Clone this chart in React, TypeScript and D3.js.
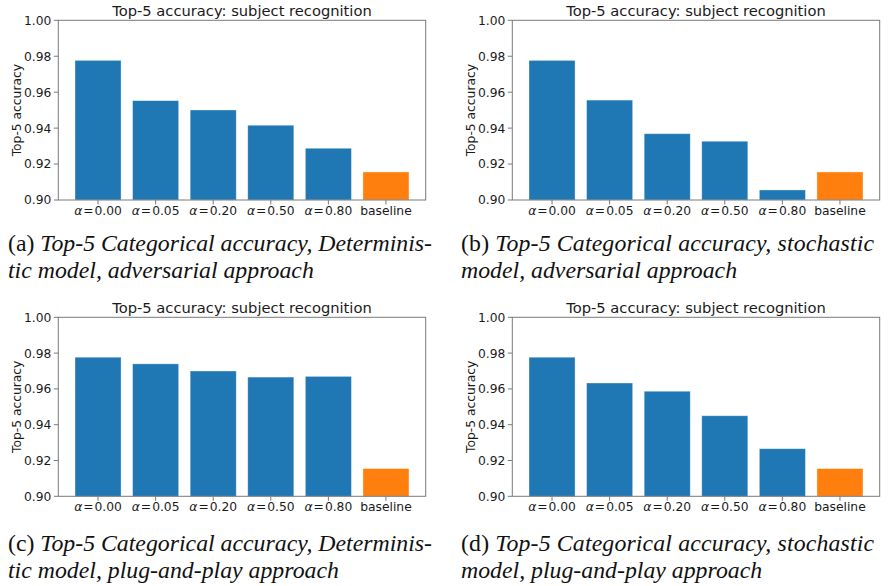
import React from "react";
import * as d3 from "d3";

const categories = ["0.00", "0.05", "0.20", "0.50", "0.80", "baseline"];
const valuesA = [0.9777, 0.9553, 0.9501, 0.9416, 0.9288, 0.9156];
const valuesB = [0.9777, 0.9556, 0.9369, 0.9327, 0.9056, 0.9156];
const valuesC = [0.9777, 0.974, 0.970, 0.9666, 0.967, 0.9155];
const valuesD = [0.9777, 0.9633, 0.9587, 0.945, 0.9266, 0.9155];
const yTicks = [0.9, 0.92, 0.94, 0.96, 0.98, 1.0];
const chartTitle = "Top-5 accuracy: subject recognition";
const yLabel = "Top-5 accuracy";

const captions = [
  { tag: "(a) ", l1: "Top-5 Categorical accuracy, Determinis-", l2: "tic model, adversarial approach" },
  { tag: "(b) ", l1: "Top-5 Categorical accuracy, stochastic", l2: "model, adversarial approach" },
  { tag: "(c) ", l1: "Top-5 Categorical accuracy, Determinis-", l2: "tic model, plug-and-play approach" },
  { tag: "(d) ", l1: "Top-5 Categorical accuracy, stochastic", l2: "model, plug-and-play approach" },
];

const BLUE = "#1f77b4";
const ORANGE = "#ff7f0e";
const SPINE = "#7a7a7a";
const SANS = "'DejaVu Sans', sans-serif";
const SERIF = "'Liberation Serif', 'Times New Roman', serif";
const TICK_FS = 12.3;
const TITLE_FS = 14.7;
const CAP_FS = 23.8;

type PanelProps = { values: number[]; x0: number; y0: number; x1: number; y1: number; cap: typeof captions[0]; capY: number; capX0: number; capX1: number };

function Panel({ values, x0, y0, x1, y1, cap, capY, capX0, capX1 }: PanelProps) {
  const x = d3.scaleBand<string>().domain(categories).range([x0, x1]).paddingInner(0.2).paddingOuter(0.29);
  const y = d3.scaleLinear().domain([0.9, 1.0]).range([y1, y0]);
  return (
    <g>
      <text x={(x0 + x1) / 2} y={y0 - 4} textAnchor="middle" fontFamily={SANS} fontSize={TITLE_FS} fill="#1a1a1a">{chartTitle}</text>
      {values.map((v, i) => (
        <rect key={i} x={x(categories[i])!} y={y(v)} width={x.bandwidth()} height={y(0.9) - y(v)}
          fill={i === values.length - 1 ? ORANGE : BLUE} stroke="rgba(255,255,255,0.45)" strokeWidth={0.8} />
      ))}
      <rect x={x0} y={y0} width={x1 - x0} height={y1 - y0} fill="none" stroke={SPINE} strokeWidth={1} />
      {yTicks.map((t) => (
        <g key={t}>
          <line x1={x0 - 4.5} x2={x0} y1={y(t)} y2={y(t)} stroke={SPINE} strokeWidth={1} />
          <text x={x0 - 7} y={y(t)} dy="0.36em" textAnchor="end" fontFamily={SANS} fontSize={TICK_FS} fill="#1a1a1a">{t.toFixed(2)}</text>
        </g>
      ))}
      {categories.map((c, i) => {
        const cx = x(c)! + x.bandwidth() / 2;
        return (
          <g key={c}>
            <line x1={cx} x2={cx} y1={y1} y2={y1 + 4.5} stroke={SPINE} strokeWidth={1} />
            <text x={cx} y={y1 + 15} textAnchor="middle" fontFamily={SANS} fontSize={TICK_FS} fill="#1a1a1a">
              {i === categories.length - 1 ? c : (
                <>
                  <tspan fontStyle="italic">α</tspan>
                  <tspan dx={1}>=</tspan>
                  <tspan dx={1}>{c}</tspan>
                </>
              )}
            </text>
          </g>
        );
      })}
      <text transform={`translate(${x0 - 37},${(y0 + y1) / 2}) rotate(-90)`} textAnchor="middle" fontFamily={SANS} fontSize={TICK_FS} fill="#1a1a1a">{yLabel}</text>
      <text x={capX0} y={capY} fontFamily={SERIF} fontSize={CAP_FS} fill="#111" textLength={capX1 - capX0} lengthAdjust="spacing">
        <tspan>{cap.tag}</tspan>
        <tspan fontStyle="italic">{cap.l1}</tspan>
      </text>
      <text x={capX0} y={capY + 26.5} fontFamily={SERIF} fontSize={CAP_FS} fontStyle="italic" fill="#111">{cap.l2}</text>
    </g>
  );
}

export default function App() {
  const L = [58.3, 425.7];
  const R = [512.3, 879.7];
  const T = [20.3, 200];
  const B = [317.3, 496.3];
  return (
    <svg width={888} height={586} style={{ position: "absolute", left: 0, top: 0, background: "#fff" }}>
      <Panel values={valuesA} x0={L[0]} x1={L[1]} y0={T[0]} y1={T[1]} cap={captions[0]} capY={251} capX0={8} capX1={432} />
      <Panel values={valuesB} x0={R[0]} x1={R[1]} y0={T[0]} y1={T[1]} cap={captions[1]} capY={251} capX0={461} capX1={874} />
      <Panel values={valuesC} x0={L[0]} x1={L[1]} y0={B[0]} y1={B[1]} cap={captions[2]} capY={551} capX0={8} capX1={432} />
      <Panel values={valuesD} x0={R[0]} x1={R[1]} y0={B[0]} y1={B[1]} cap={captions[3]} capY={551} capX0={461} capX1={874} />
    </svg>
  );
}
